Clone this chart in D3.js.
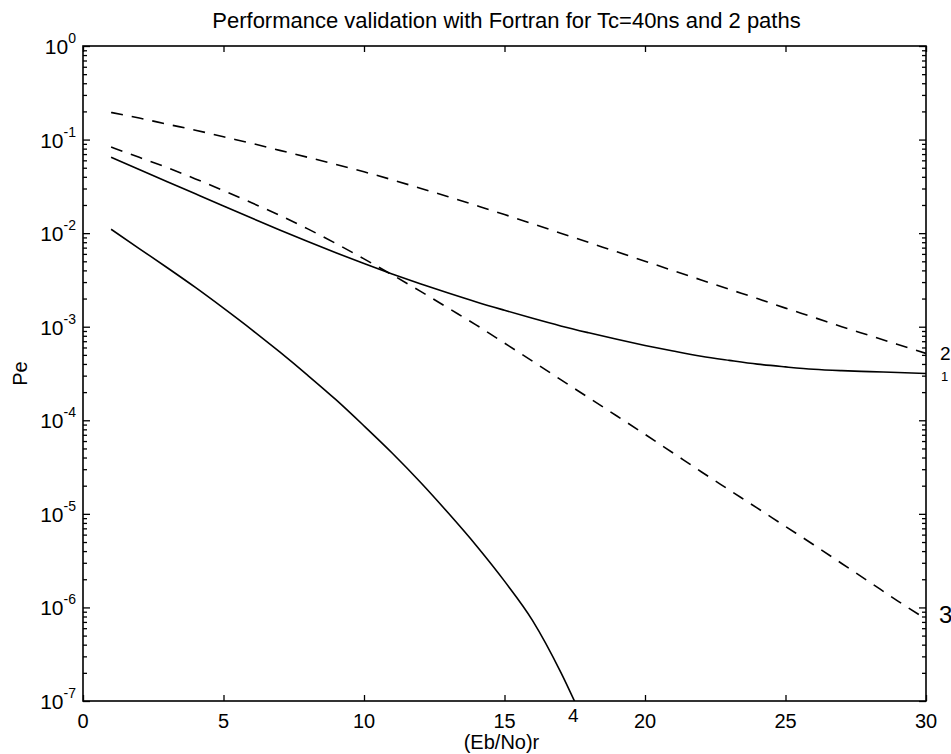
<!DOCTYPE html>
<html>
<head>
<meta charset="utf-8">
<script src="https://cdn.jsdelivr.net/npm/d3@7"></script>
<style>
  html, body { margin: 0; padding: 0; background: #fff; }
  svg { display: block; }
  text { font-family: "Liberation Sans", Arial, Helvetica, sans-serif; fill: #000; }
</style>
</head>
<body>
<svg id="chart" width="951" height="754"></svg>
<script>
// Eb/No (dB) sample points
const ebno = d3.range(1, 31);
const ebnoShort = d3.range(1, 19);

// Curve 1: solid, upper
const pe1 = [0.0646, 0.0479, 0.0355, 0.0263, 0.0195, 0.0145, 0.0108, 0.00813, 0.00617, 0.00473,
             0.00367, 0.00288, 0.00229, 0.00184, 0.00150, 0.00123, 0.00102, 0.000861, 0.000733, 0.000631,
             0.000550, 0.000484, 0.000437, 0.000398, 0.000372, 0.000351, 0.000339, 0.000331, 0.000324, 0.000316];
// Curve 2: dashed, upper
const pe2 = [0.195, 0.170, 0.146, 0.126, 0.107, 0.0912, 0.0767, 0.0646, 0.0543, 0.0452,
             0.0372, 0.0302, 0.0245, 0.0197, 0.0158, 0.0126, 0.0100, 0.00794, 0.00631, 0.00501,
             0.00398, 0.00316, 0.00251, 0.00200, 0.00158, 0.00126, 0.00100, 0.000804, 0.000646, 0.000519];
// Curve 3: dashed, lower
const pe3 = [0.0832, 0.0646, 0.0501, 0.0380, 0.0285, 0.0211, 0.0155, 0.0111, 0.00776, 0.00531,
             0.00359, 0.00240, 0.00158, 0.00104, 6.68e-4, 4.27e-4, 2.72e-4, 1.74e-4, 1.11e-4, 7.08e-5,
             4.47e-5, 2.82e-5, 1.80e-5, 1.15e-5, 7.33e-6, 4.68e-6, 2.95e-6, 1.86e-6, 1.17e-6, 7.50e-7];
// Curve 4: solid, lower (drops below the axis floor after ~17.5 dB)
const pe4 = [0.0110, 0.00684, 0.00427, 0.00263, 0.00158, 9.33e-4, 5.37e-4, 3.02e-4, 1.66e-4, 8.71e-5,
             4.47e-5, 2.19e-5, 1.02e-5, 4.57e-6, 1.91e-6, 7.24e-7, 2.04e-7, 4.57e-8];

const xTicks = [0, 5, 10, 15, 20, 25, 30];
const yExponents = [0, -1, -2, -3, -4, -5, -6, -7];

const titleText = "Performance validation with Fortran for Tc=40ns and 2 paths";
const xLabel = "(Eb/No)r";
const yLabel = "Pe";

const svg = d3.select("#chart");
const plot = { left: 83, right: 926, top: 46, bottom: 701 };

const x = d3.scaleLinear().domain([0, 30]).range([plot.left, plot.right]);
const y = d3.scaleLog().domain([1e-7, 1]).range([plot.bottom, plot.top]);

svg.append("defs").append("clipPath").attr("id", "plotClip")
  .append("rect")
  .attr("x", plot.left).attr("y", plot.top)
  .attr("width", plot.right - plot.left).attr("height", plot.bottom - plot.top);

// Tick values for the log axis
const yMajor = yExponents.map(e => Math.pow(10, e));
const yMinor = [];
for (let e = -7; e < 0; e++) for (let m = 2; m <= 9; m++) yMinor.push(m * Math.pow(10, e));

function stripDomain(g) {
  g.select(".domain").remove();
  g.selectAll("line").attr("stroke", "#000").attr("stroke-width", 1.3);
}

// Inward ticks on all four sides
svg.append("g").attr("transform", `translate(0,${plot.bottom})`)
  .call(d3.axisBottom(x).tickValues(xTicks).tickSize(-6).tickFormat(""))
  .call(stripDomain);
svg.append("g").attr("transform", `translate(0,${plot.top})`)
  .call(d3.axisTop(x).tickValues(xTicks).tickSize(-6).tickFormat(""))
  .call(stripDomain);
svg.append("g").attr("transform", `translate(${plot.left},0)`)
  .call(d3.axisLeft(y).tickValues(yMajor).tickSize(-7).tickFormat(""))
  .call(stripDomain);
svg.append("g").attr("transform", `translate(${plot.left},0)`)
  .call(d3.axisLeft(y).tickValues(yMinor).tickSize(-4).tickFormat(""))
  .call(stripDomain);
svg.append("g").attr("transform", `translate(${plot.right},0)`)
  .call(d3.axisRight(y).tickValues(yMajor).tickSize(-7).tickFormat(""))
  .call(stripDomain);
svg.append("g").attr("transform", `translate(${plot.right},0)`)
  .call(d3.axisRight(y).tickValues(yMinor).tickSize(-4).tickFormat(""))
  .call(stripDomain);

// Axes box
svg.append("rect")
  .attr("x", plot.left).attr("y", plot.top)
  .attr("width", plot.right - plot.left).attr("height", plot.bottom - plot.top)
  .attr("fill", "none").attr("stroke", "#000").attr("stroke-width", 1.6);

// x tick labels
svg.append("g").selectAll("text").data(xTicks).join("text")
  .attr("x", d => x(d)).attr("y", plot.bottom + 27)
  .attr("text-anchor", "middle").attr("font-size", 20)
  .text(d => d);

// y tick labels: 10 with a raised exponent
const yl = svg.append("g").selectAll("text").data(yExponents).join("text")
  .attr("x", plot.left - 7).attr("y", d => y(Math.pow(10, d)) + 8)
  .attr("text-anchor", "end").attr("font-size", 21);
yl.append("tspan").text("10");
yl.append("tspan").attr("dy", -11).attr("font-size", 14)
  .text(d => d === 0 ? "0" : "-" + Math.abs(d));

// Title and axis labels
svg.append("text").attr("x", (plot.left + plot.right) / 2 + 2).attr("y", 28)
  .attr("text-anchor", "middle").attr("font-size", 22).text(titleText);
svg.append("text").attr("x", (plot.left + plot.right) / 2 - 3).attr("y", 749)
  .attr("text-anchor", "middle").attr("font-size", 20).text(xLabel);
svg.append("text").attr("transform", `translate(27,${(plot.top + plot.bottom) / 2}) rotate(-90)`)
  .attr("text-anchor", "middle").attr("font-size", 20).text(yLabel);

// Curves
const line = d3.line().x(d => x(d[0])).y(d => y(d[1])).curve(d3.curveMonotoneX);
const curves = [
  { xs: ebno, ys: pe1, dash: null },
  { xs: ebno, ys: pe2, dash: "12,9" },
  { xs: ebno, ys: pe3, dash: "12,9" },
  { xs: ebnoShort, ys: pe4, dash: null }
];
const cg = svg.append("g").attr("clip-path", "url(#plotClip)");
curves.forEach(c => {
  cg.append("path")
    .datum(d3.zip(c.xs, c.ys))
    .attr("d", line)
    .attr("fill", "none")
    .attr("stroke", "#000")
    .attr("stroke-width", 1.6)
    .attr("stroke-dasharray", c.dash);
});

// Curve numbers written next to the curve ends
const curveTags = [
  { t: "2", xv: 30, yv: pe2[29], dx: 14, dy: 7, size: 19 },
  { t: "1", xv: 30, yv: pe1[29], dx: 15, dy: 7, size: 13 },
  { t: "3", xv: 30, yv: pe3[29], dx: 13, dy: 4, size: 24 },
  { t: "4", xv: 17.45, yv: 1e-7, dx: 0, dy: 21, size: 19 }
];
svg.append("g").selectAll("text").data(curveTags).join("text")
  .attr("x", d => x(d.xv) + d.dx).attr("y", d => y(d.yv) + d.dy)
  .attr("text-anchor", d => d.dx === 0 ? "middle" : "start")
  .attr("font-family", "'DejaVu Sans', sans-serif").attr("font-weight", 300)
  .attr("font-size", d => d.size)
  .text(d => d.t);
</script>
</body>
</html>
